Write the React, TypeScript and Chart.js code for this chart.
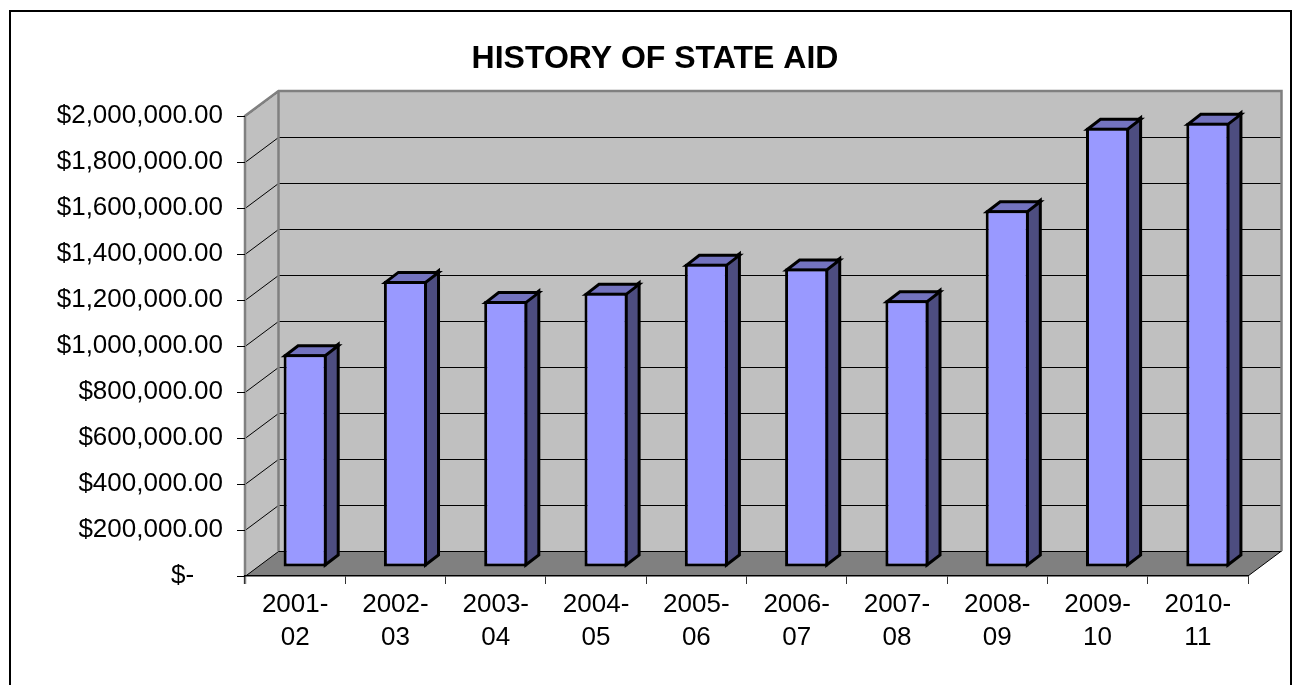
import React, { useEffect, useRef } from "react";
import { Chart, registerables } from "chart.js";

Chart.register(...registerables);

// ---- data ----
const chartTitle = "HISTORY OF STATE AID";
const categories: string[][] = [
  ["2001-", "02"],
  ["2002-", "03"],
  ["2003-", "04"],
  ["2004-", "05"],
  ["2005-", "06"],
  ["2006-", "07"],
  ["2007-", "08"],
  ["2008-", "09"],
  ["2009-", "10"],
  ["2010-", "11"],
];
const stateAid: number[] = [
  925000, 1244000, 1156000, 1192000, 1318000, 1298000, 1160000, 1551000, 1910000, 1931000,
];
const yMin = 0;
const yMax = 2000000;
const yStep = 200000;

// ---- styling ----
const FONT = '"Liberation Sans", Arial, Helvetica, sans-serif';
const DEPTH = { x: 33.5, y: -25 };
const BAR_SHIFT = { x: 10, y: -9 };
const BAR_DEPTH = { x: 13, y: -10 };

function money(v: number): string {
  if (v === 0) return "$-    ";
  const whole = Math.floor(v);
  const cents = Math.round((v - whole) * 100);
  const s = String(whole).replace(/\B(?=(\d{3})+(?!\d))/g, ",");
  return "$" + s + "." + String(cents).padStart(2, "0");
}

function poly(ctx: CanvasRenderingContext2D, pts: number[][]) {
  ctx.beginPath();
  ctx.moveTo(pts[0][0], pts[0][1]);
  for (let i = 1; i < pts.length; i++) ctx.lineTo(pts[i][0], pts[i][1]);
  ctx.closePath();
}

const excel3d = {
  id: "excel3d",
  beforeDraw(chart: any) {
    const { ctx, chartArea: a, scales } = chart;
    const ys = scales.y;
    const L = a.left, R = a.right, T = a.top, B = a.bottom;
    const dx = DEPTH.x, dy = DEPTH.y;
    ctx.save();
    ctx.fillStyle = "#ffffff";
    ctx.fillRect(0, 0, chart.width, chart.height);
    // outer frame
    ctx.strokeStyle = "#000";
    ctx.lineWidth = 2;
    ctx.strokeRect(10, 11, 1281, 720);
    // title
    ctx.font = `bold 32px ${FONT}`;
    ctx.textAlign = "center";
    ctx.textBaseline = "middle";
    ctx.fillStyle = "#000";
    ctx.fillText(chartTitle, 655, 59);
    // floor
    ctx.fillStyle = "#808080";
    poly(ctx, [[L, B], [L + dx, B + dy], [R + dx, B + dy], [R, B]]);
    ctx.fill();
    // back wall
    ctx.fillStyle = "#c0c0c0";
    ctx.fillRect(L + dx, T + dy, R - L, B - T);
    // side wall
    poly(ctx, [[L, T], [L + dx, T + dy], [L + dx, B + dy], [L, B]]);
    ctx.fill();
    // gridlines
    ctx.strokeStyle = "#000";
    ctx.lineWidth = 1;
    ys.ticks.forEach((t: any) => {
      const py = Math.round(ys.getPixelForValue(t.value)) + 0.5;
      ctx.beginPath();
      ctx.moveTo(L, py);
      ctx.lineTo(L + dx, py + dy);
      ctx.lineTo(R + dx, py + dy);
      ctx.stroke();
    });
    // floor right edge
    ctx.beginPath();
    ctx.moveTo(R, B);
    ctx.lineTo(R + dx, B + dy);
    ctx.stroke();
    // wall borders
    ctx.strokeStyle = "#808080";
    ctx.lineWidth = 2.5;
    ctx.beginPath();
    ctx.moveTo(L, B + 8);
    ctx.lineTo(L, T);
    ctx.lineTo(L + dx, T + dy);
    ctx.lineTo(R + dx, T + dy);
    ctx.lineTo(R + dx, B + dy);
    ctx.moveTo(L + dx, T + dy);
    ctx.lineTo(L + dx, B + dy);
    ctx.stroke();
    ctx.restore();
  },
  beforeDatasetsDraw(chart: any) {
    const ctx = chart.ctx;
    ctx.save();
    ctx.translate(BAR_SHIFT.x, BAR_SHIFT.y);
    const meta = chart.getDatasetMeta(0);
    const bx = BAR_DEPTH.x, by = BAR_DEPTH.y;
    meta.data.forEach((el: any) => {
      const { x, y, base, width } = el.getProps(["x", "y", "base", "width"], true);
      const l = x - width / 2, r = x + width / 2;
      const top = y - 1.5, r2 = r - 1.5, l2 = l + 1.5;
      ctx.lineWidth = 3;
      ctx.lineJoin = "miter";
      ctx.strokeStyle = "#000";
      ctx.fillStyle = "#4d4d80";
      poly(ctx, [[r2, top + 1.5], [r2 + bx, top + 1.5 + by], [r2 + bx, base - 1.5 + by], [r2, base - 1.5]]);
      ctx.fill();
      ctx.stroke();
      ctx.fillStyle = "#7373bf";
      poly(ctx, [[l2, y + 1.5], [l2 + bx, y + 1.5 + by], [r2 + bx, y + 1.5 + by], [r2, y + 1.5]]);
      ctx.fill();
      ctx.stroke();
    });
  },
  afterDatasetsDraw(chart: any) {
    chart.ctx.restore();
  },
};

export default function App() {
  const ref = useRef<HTMLCanvasElement | null>(null);
  useEffect(() => {
    if (!ref.current) return;
    const chart = new Chart(ref.current, {
      type: "bar",
      data: {
        labels: categories,
        datasets: [
          {
            label: "State Aid",
            data: stateAid,
            backgroundColor: "#9999ff",
            borderColor: "#000000",
            borderWidth: 3,
            borderSkipped: false,
            barPercentage: 0.43,
            categoryPercentage: 1,
            clip: false as any,
          },
        ],
      },
      options: {
        animation: false,
        responsive: false,
        devicePixelRatio: 1,
        layout: { padding: { top: 116, left: 10, right: 45, bottom: 9 } },
        plugins: {
          legend: { display: false },
          title: { display: false },
          tooltip: { enabled: false },
        },
        scales: {
          x: {
            offset: true,
            grid: {
              offset: true,
              drawOnChartArea: false,
              drawTicks: true,
              tickLength: 8,
              color: "#333333",
              lineWidth: 1,
            },
            border: { display: true, color: "#000000", width: 1.5 },
            ticks: {
              color: "#000",
              font: { family: FONT, size: 26, lineHeight: 1.27 },
              padding: 4,
              maxRotation: 0,
              autoSkip: false,
            },
            afterFit: (s: any) => {
              s.height = 100;
            },
          },
          y: {
            min: yMin,
            max: yMax,
            grid: {
              drawOnChartArea: false,
              drawTicks: true,
              tickLength: 8,
              color: "#000000",
              lineWidth: 1,
            },
            border: { display: false },
            ticks: {
              stepSize: yStep,
              color: "#000",
              font: { family: FONT, size: 26 },
              padding: 14,
              callback: (v: any) => money(Number(v)),
            },
            afterFit: (s: any) => {
              s.width = 235;
            },
          },
        },
      },
      plugins: [excel3d],
    });
    return () => chart.destroy();
  }, []);
  return (
    <div style={{ position: "absolute", left: 0, top: 0, width: 1293, height: 685 }}>
      <canvas ref={ref} width={1293} height={685} style={{ display: "block" }} />
    </div>
  );
}
